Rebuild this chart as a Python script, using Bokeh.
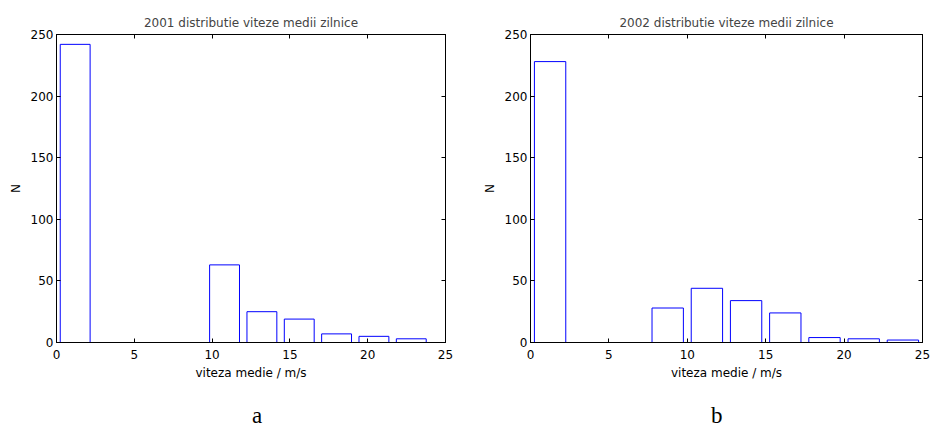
from bokeh.plotting import figure
from bokeh.models import Range1d, FixedTicker, LinearAxis, Div
from bokeh.layouts import row, column
from bokeh.embed import file_html
from bokeh.resources import INLINE

# ---- data ----
centers_2001 = [1.2, 3.6, 6.0, 8.4, 10.8, 13.2, 15.6, 18.0, 20.4, 22.8]
counts_2001 = [242, 0, 0, 0, 63, 25, 19, 7, 5, 3]
binw_2001 = 2.4

centers_2002 = [1.25, 3.75, 6.25, 8.75, 11.25, 13.75, 16.25, 18.75, 21.25, 23.75]
counts_2002 = [228, 0, 0, 28, 44, 34, 24, 4, 3, 2]
binw_2002 = 2.5

x_ticks = [0, 5, 10, 15, 20, 25]
y_ticks = [0, 50, 100, 150, 200, 250]

FONT = "DejaVu Sans"
FS = "12px"


def make(title, centers, counts, binw, width, bl, br, bt, bb):
    p = figure(width=width, height=400, output_backend="svg", toolbar_location=None,
               x_range=Range1d(0, 25), y_range=Range1d(0, 250),
               min_border_left=bl, min_border_right=br,
               min_border_top=bt, min_border_bottom=bb)
    p.title.text = title
    p.title.text_font = FONT
    p.title.text_font_size = FS
    p.title.text_font_style = "normal"
    p.title.align = "center"
    p.title.standoff = 10
    p.grid.visible = False
    p.outline_line_color = "black"
    p.background_fill_color = "white"
    p.border_fill_color = "white"

    for ax in (p.xaxis[0], p.yaxis[0]):
        ax.major_label_text_font = FONT
        ax.major_label_text_font_size = FS
        ax.major_label_text_color = "black"
        ax.axis_label_text_font = FONT
        ax.axis_label_text_font_size = FS
        ax.axis_label_text_font_style = "normal"
        ax.axis_label_text_color = "black"
        ax.major_tick_in = 4
        ax.major_tick_out = 0
        ax.minor_tick_line_color = None
        ax.axis_line_color = "black"
        ax.major_tick_line_color = "black"
    p.xaxis[0].ticker = FixedTicker(ticks=x_ticks)
    p.yaxis[0].ticker = FixedTicker(ticks=y_ticks)
    p.xaxis[0].axis_label = "viteza medie / m/s"
    p.yaxis[0].axis_label = "N"
    p.xaxis[0].major_label_standoff = 7
    p.yaxis[0].major_label_standoff = 3
    p.xaxis[0].axis_label_standoff = 4
    p.yaxis[0].axis_label_standoff = 5

    top = LinearAxis(ticker=FixedTicker(ticks=x_ticks))
    right = LinearAxis(ticker=FixedTicker(ticks=y_ticks))
    for ax in (top, right):
        ax.major_label_text_font_size = "0px"
        ax.major_label_text_color = None
        ax.major_label_standoff = 0
        ax.major_tick_in = 4
        ax.major_tick_out = 0
        ax.minor_tick_line_color = None
        ax.axis_line_color = "black"
        ax.major_tick_line_color = "black"
    p.add_layout(top, "above")
    p.add_layout(right, "right")

    xs = [c for c, n in zip(centers, counts) if n > 0]
    ns = [n for n in counts if n > 0]
    p.vbar(x=xs, top=ns, bottom=0, width=binw * 0.8,
           fill_color="white", line_color="#0000ff", line_width=1)
    return p


def letter(text, width, pad):
    html = ('<div style="font-family:\'Liberation Serif\',serif;font-size:23px;'
            'line-height:23px;padding-top:4px;padding-left:%dpx;color:black;margin:0;">%s</div>'
            % (pad, text))
    return Div(text=html, width=width, height=27, margin=0)


p1 = make("2001 distributie viteze medii zilnice", centers_2001, counts_2001, binw_2001,
          470, 56, 25, 34, 58)
p2 = make("2002 distributie viteze medii zilnice", centers_2002, counts_2002, binw_2002,
          464, 60, 12, 33, 58)

layout = column(row(p1, p2), row(letter("a", 470, 252), letter("b", 464, 241)))
open("out.html", "w").write(file_html(layout, INLINE))
